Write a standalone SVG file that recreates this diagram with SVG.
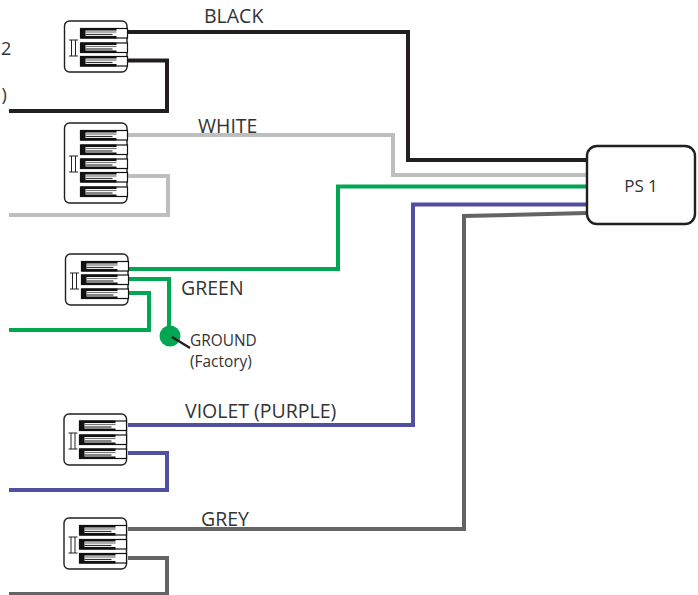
<svg xmlns="http://www.w3.org/2000/svg" width="698" height="595" viewBox="0 0 698 595">
<style>
text{font-family:"Open Sans","Noto Sans",sans-serif;fill:#333;}
.l{font-size:19.500px;}
.s{font-size:15.400px;}
.w{fill:none;stroke-width:4;stroke-linejoin:miter;}
.box{fill:#fff;stroke:#231f20;stroke-width:1.4;}
</style>
<defs>
<g id="t">
<rect x="0" y="0" width="47" height="9.500" fill="#fff" stroke="#111" stroke-width="1.2"/>
<path d="M0 -0.500H36V2H5V7.500H36V10H0Z" fill="#111"/>
<path d="M5 3.500H36" stroke="#777" stroke-width="1.200"/>
<path d="M5 6H32" stroke="#333" stroke-width="1.200"/>
</g>
<path id="ib" d="M0 0H9M0 16H9M2.500 0V16M6.500 0V16" fill="none" stroke="#222" stroke-width="1"/>
</defs>
<g id="connectors">
<path class="w" stroke="#231f20" d="M128 32H408V160H587"/>
<path class="w" stroke="#231f20" d="M128 60.500H167V111H9"/>
<path class="w" stroke="#bcbec0" d="M128 135H393V175H587"/>
<path class="w" stroke="#bcbec0" d="M128 176H168V215H9"/>
<path class="w" stroke="#00a651" d="M128 269H338V186.500H587"/>
<path class="w" stroke="#00a651" d="M128 279H169V335"/>
<path class="w" stroke="#00a651" d="M128 293H149V330H9"/>
<path class="w" stroke="#524fa1" d="M128 425H413V204.500H587"/>
<path class="w" stroke="#524fa1" d="M128 453H167V490H9"/>
<path class="w" stroke="#636466" d="M128 529H464V216L587 213"/>
<path class="w" stroke="#636466" d="M128 558H167V594H9"/>
</g>
<g id="conn-black">
<rect class="box" x="64.500" y="21" width="62.500" height="51" rx="5"/>
<use href="#ib" x="69" y="40"/>
<use href="#t" x="80.500" y="28.500"/><use href="#t" x="80.500" y="43"/><use href="#t" x="80.500" y="56.500"/>
</g>
<g id="conn-white">
<rect class="box" x="64.500" y="123" width="62.500" height="80" rx="5"/>
<use href="#ib" x="69" y="156"/>
<use href="#t" x="80.500" y="130.500"/><use href="#t" x="80.500" y="145"/><use href="#t" x="80.500" y="159"/><use href="#t" x="80.500" y="172.500"/><use href="#t" x="80.500" y="187"/>
</g>
<g id="conn-green">
<rect class="box" x="65.500" y="254" width="62.500" height="51" rx="5"/>
<use href="#ib" x="70" y="273"/>
<use href="#t" x="81.500" y="261.500"/><use href="#t" x="81.500" y="275"/><use href="#t" x="81.500" y="289"/>
</g>
<g id="conn-violet">
<rect class="box" x="64" y="414" width="62.500" height="51" rx="5"/>
<use href="#ib" x="68.500" y="433"/>
<use href="#t" x="79.500" y="421"/><use href="#t" x="79.500" y="435"/><use href="#t" x="79.500" y="449"/>
</g>
<g id="conn-grey">
<rect class="box" x="64" y="518" width="62.500" height="51" rx="5"/>
<use href="#ib" x="68.500" y="537"/>
<use href="#t" x="79.500" y="525.500"/><use href="#t" x="79.500" y="539.500"/><use href="#t" x="79.500" y="553.500"/>
</g>
<g id="ps1">
<rect x="587" y="146" width="108" height="78" rx="10" fill="#fff" stroke="#231f20" stroke-width="2.400"/>
<text x="641" y="192" text-anchor="middle" font-size="17">PS 1</text>
</g>
<g id="ground">
<circle cx="170" cy="336" r="10.500" fill="#00a651"/>
<path d="M172 337L190 348" stroke="#231f20" stroke-width="2.400"/>
<text class="s" x="190" y="346">GROUND</text>
<text class="s" x="190" y="367">(Factory)</text>
</g>
<g id="labels">
<text class="l" x="204" y="23">BLACK</text>
<text class="l" x="198" y="133">WHITE</text>
<text class="l" x="181" y="295">GREEN</text>
<text class="l" x="185" y="418">VIOLET (PURPLE)</text>
<text class="l" x="201" y="526">GREY</text>
<text x="1" y="55" font-size="18">2</text>
<text x="1.500" y="101" font-size="18">)</text>
</g>
</svg>
